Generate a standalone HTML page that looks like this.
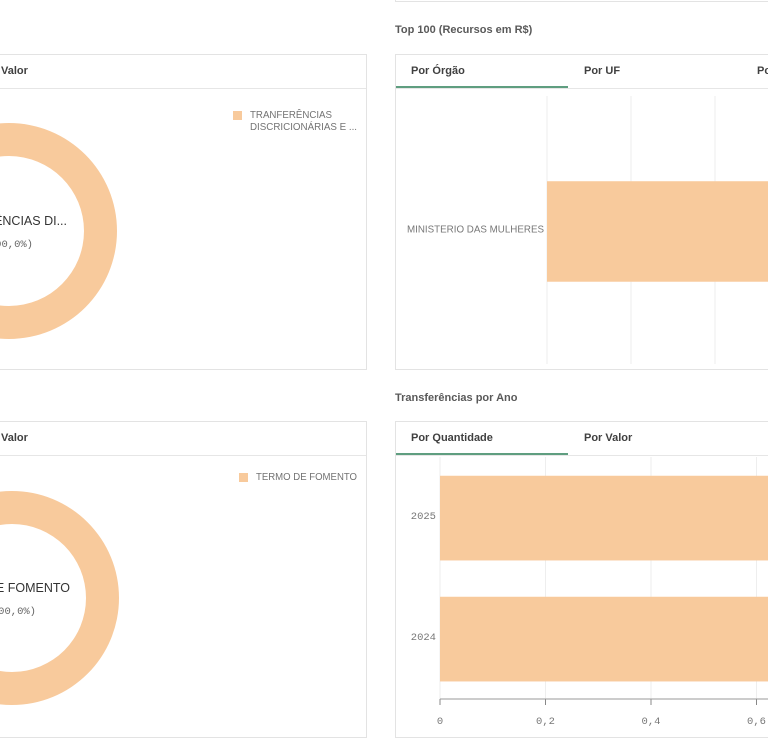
<!DOCTYPE html>
<html><head><meta charset="utf-8">
<style>
body{margin:0;width:768px;height:750px;overflow:hidden;background:#fff;font-family:"Liberation Sans",sans-serif;position:relative}
.card{position:absolute;border:1px solid #e3e3e3;background:#fff;box-sizing:border-box}
.hdr{position:absolute;left:0;right:0;top:0;height:33px;border-bottom:1px solid #e6e6e6}
.tab{position:absolute;top:10px;font-size:11px;font-weight:bold;color:#404040}
.title{position:absolute;font-size:11px;font-weight:bold;color:#595959}
.ul{position:absolute;left:0;width:172px;top:31px;height:2px;background:#5f9e80}
svg{position:absolute;left:0;top:0}
</style></head><body>
<div class="card" style="left:395px;top:-10px;width:390px;height:12px"></div>

<div class="card" style="left:-10px;top:54px;width:377px;height:316px">
 <div class="hdr"><span class="tab" style="left:10px">Valor</span></div>
</div>
<div class="card" style="left:-10px;top:421px;width:377px;height:317px">
 <div class="hdr"><span class="tab" style="left:10px">Valor</span></div>
</div>

<div class="title" style="left:395px;top:24px">Top 100 (Recursos em R$)</div>
<div class="card" style="left:395px;top:54px;width:390px;height:316px">
 <div class="hdr">
  <span class="tab" style="left:15px">Por Órgão</span>
  <span class="tab" style="left:188px">Por UF</span>
  <span class="tab" style="left:361px">Por</span>
  <div class="ul"></div>
 </div>
</div>

<div class="title" style="left:395px;top:392px">Transferências por Ano</div>
<div class="card" style="left:395px;top:421px;width:390px;height:317px">
 <div class="hdr">
  <span class="tab" style="left:15px">Por Quantidade</span>
  <span class="tab" style="left:188px">Por Valor</span>
  <div class="ul"></div>
 </div>
</div>

<svg id="s" width="768" height="750"></svg>
<script>
const donut1Labels=["TRANFERÊNCIAS DISCRICIONÁRIAS E ..."];
const donut1Values=[1];
const donut2Labels=["TERMO DE FOMENTO"];
const donut2Values=[1];
const orgaoCats=["MINISTERIO DAS MULHERES"];
const orgaoValues=[1];
const orgaoTicks=[0,0.2,0.4,0.6];
const anoCats=["2025","2024"];
const anoValues=[1,1];
const anoTicks=[0,0.2,0.4,0.6];
const C="#f8ca9c";
const s=document.getElementById('s');
const NS="http://www.w3.org/2000/svg";
function mk(t,a,txt){const e=document.createElementNS(NS,t);for(const k in a)e.setAttribute(k,a[k]);if(txt!=null)e.textContent=txt;s.appendChild(e);return e;}

function donut(vals,labels,cx,cy,ro,ri,centerTxt,legX,legY,legLines,legW){
 const tot=vals.reduce((a,b)=>a+b,0);let a0=-Math.PI/2;
 vals.forEach((v,i)=>{
  const frac=v/tot;
  let e;
  if(frac>=0.9999){
   e=mk('path',{d:`M${cx-ro},${cy}a${ro},${ro} 0 1,0 ${2*ro},0a${ro},${ro} 0 1,0 ${-2*ro},0M${cx-ri},${cy}a${ri},${ri} 0 1,1 ${2*ri},0a${ri},${ri} 0 1,1 ${-2*ri},0Z`,fill:C,'fill-rule':'evenodd'});
  }else{
   const a1=a0+frac*2*Math.PI,l=frac>0.5?1:0;
   const p=(r,a)=>`${cx+r*Math.cos(a)},${cy+r*Math.sin(a)}`;
   e=mk('path',{d:`M${p(ro,a0)}A${ro},${ro} 0 ${l},1 ${p(ro,a1)}L${p(ri,a1)}A${ri},${ri} 0 ${l},0 ${p(ri,a0)}Z`,fill:C});
   a0=a1;
  }
  
  
  const t=mk('text',{x:cx+58,y:cy-6,'font-size':12.5,fill:'#333','text-anchor':'end'},centerTxt);
  
  
  const t2=mk('text',{x:cx+24,y:cy+16,'font-size':10.5,fill:'#666','font-family':'Liberation Mono, monospace','text-anchor':'end'},"("+(frac*100).toFixed(1).replace('.',',')+"%)");
  
  
  const sw=mk('rect',{x:legX,y:legY,width:9,height:9,fill:C});
  
  
  legLines.forEach((ln,j)=>{
   const lt=mk('text',{x:legX+17,y:legY+4+j*12,'font-size':10.5,fill:'#737373','dominant-baseline':'middle',textLength:legW[j],lengthAdjust:'spacingAndGlyphs'},ln);
   
   
  });
 });
}
donut(donut1Values,donut1Labels,9,231,108,75,"ÊNCIAS DI...",233,111,["TRANFERÊNCIAS","DISCRICIONÁRIAS E ..."],[82,107]);
donut(donut2Values,donut2Labels,12,598,107,74,"DE FOMENTO",239,473,[donut2Labels[0]],[101]);

(function(){
 const x0=547,unit=(631-547)/0.2; const x=v=>x0+v*unit;
 orgaoTicks.forEach(t=>{const g=mk('line',{x1:x(t),x2:x(t),y1:96,y2:364,stroke:'#eeeeee'});});
 const top=96,band=268/orgaoCats.length;
 orgaoCats.forEach((c,i)=>{
  const y=top+i*band+band*0.318;
  const r=mk('rect',{x:x(0),y:y,width:x(orgaoValues[i])-x(0),height:band*0.375,fill:C});
  
  
  const t=mk('text',{x:544,y:y+band*0.1875+1,'font-size':10.5,fill:'#777','text-anchor':'end',textLength:137,lengthAdjust:'spacingAndGlyphs'},c);
  
  
 });
})();

(function(){
 const x0=440,unit=(545.5-440)/0.2;const x=v=>x0+v*unit;
 anoTicks.forEach(t=>{
  const g=mk('line',{x1:x(t),x2:x(t),y1:457,y2:699,stroke:'#eeeeee'});
  
  
  const tk=mk('line',{x1:x(t),x2:x(t),y1:699,y2:705,stroke:'#888'});
  
  
  const tl=mk('text',{x:x(t),y:724,'font-size':10.5,fill:'#777','text-anchor':'middle','font-family':'Liberation Mono, monospace'},String(t).replace('.',','));
  
  
 });
 const ax=mk('line',{x1:440,x2:768,y1:699,y2:699,stroke:'#999'});
 
 
 const top=457,band=242/anoCats.length;
 anoCats.forEach((c,i)=>{
  const y=top+i*band+band*0.155;
  const r=mk('rect',{x:x(0),y:y,width:x(anoValues[i])-x(0),height:band*0.7,fill:C});
  
  
  const t=mk('text',{x:436,y:y+band*0.35+1,'font-size':10.5,fill:'#777','text-anchor':'end','font-family':'Liberation Mono, monospace'},c);
  
  
 });
})();
</script>
</body></html>
